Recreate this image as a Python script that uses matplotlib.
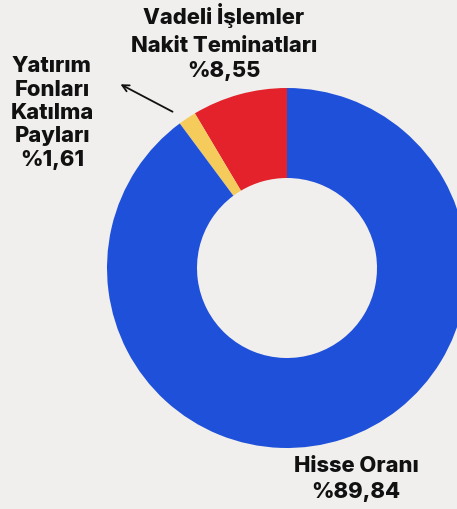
import matplotlib.pyplot as plt

# data
labels = ["Vadeli İşlemler\nNakit Teminatları", "Yatırım Fonları\nKatılma Payları", "Hisse Oranı"]
values = [8.55, 1.61, 89.84]
colors = ["#e3222b", "#f5cb5c", "#1f50d9"]
bg = "#f0efed"

W, H = 457, 509
fig = plt.figure(figsize=(W / 100, H / 100), dpi=100, facecolor=bg)

# donut centre ~ (287, 268) px, radius ~180 px
cx, cy, r = 287, 268, 180
ax = fig.add_axes([(cx - r) / W, (H - cy - r) / H, 2 * r / W, 2 * r / H])
ax.set_facecolor(bg)
ax.pie(values, colors=colors, startangle=90, counterclock=True,
       radius=1, wedgeprops=dict(width=0.5, linewidth=0))
ax.set_xlim(-1, 1)
ax.set_ylim(-1, 1)
ax.set_aspect("equal")
ax.axis("off")


def fmt(v):
    return "%" + f"{v:.2f}".replace(".", ",")


def put(x, y, s):
    fig.text(x / W, 1 - y / H, s, ha="center", va="center",
             fontsize=15.8, fontweight="heavy", family="Inter", color="#111111")


# Vadeli
put(224, 15, "Vadeli İşlemler")
put(224, 46, "Nakit Teminatları")
put(224, 71, fmt(values[0]))

# Yatırım
for y, s in zip([66, 90, 113, 136, 160],
                ["Yatırım", "Fonları", "Katılma", "Payları", fmt(values[1])]):
    put(52, y, s)

# Hisse
put(356, 466, "Hisse Oranı")
put(356, 492, fmt(values[2]))

fig.patches.append(plt.matplotlib.patches.FancyArrowPatch(
    (175 / W, 1 - 113 / H), (118 / W, 1 - 83 / H), transform=fig.transFigure,
    arrowstyle="->", mutation_scale=12, lw=1.3, color="#111111"))

fig.savefig("out.png", dpi=100, facecolor=bg)
